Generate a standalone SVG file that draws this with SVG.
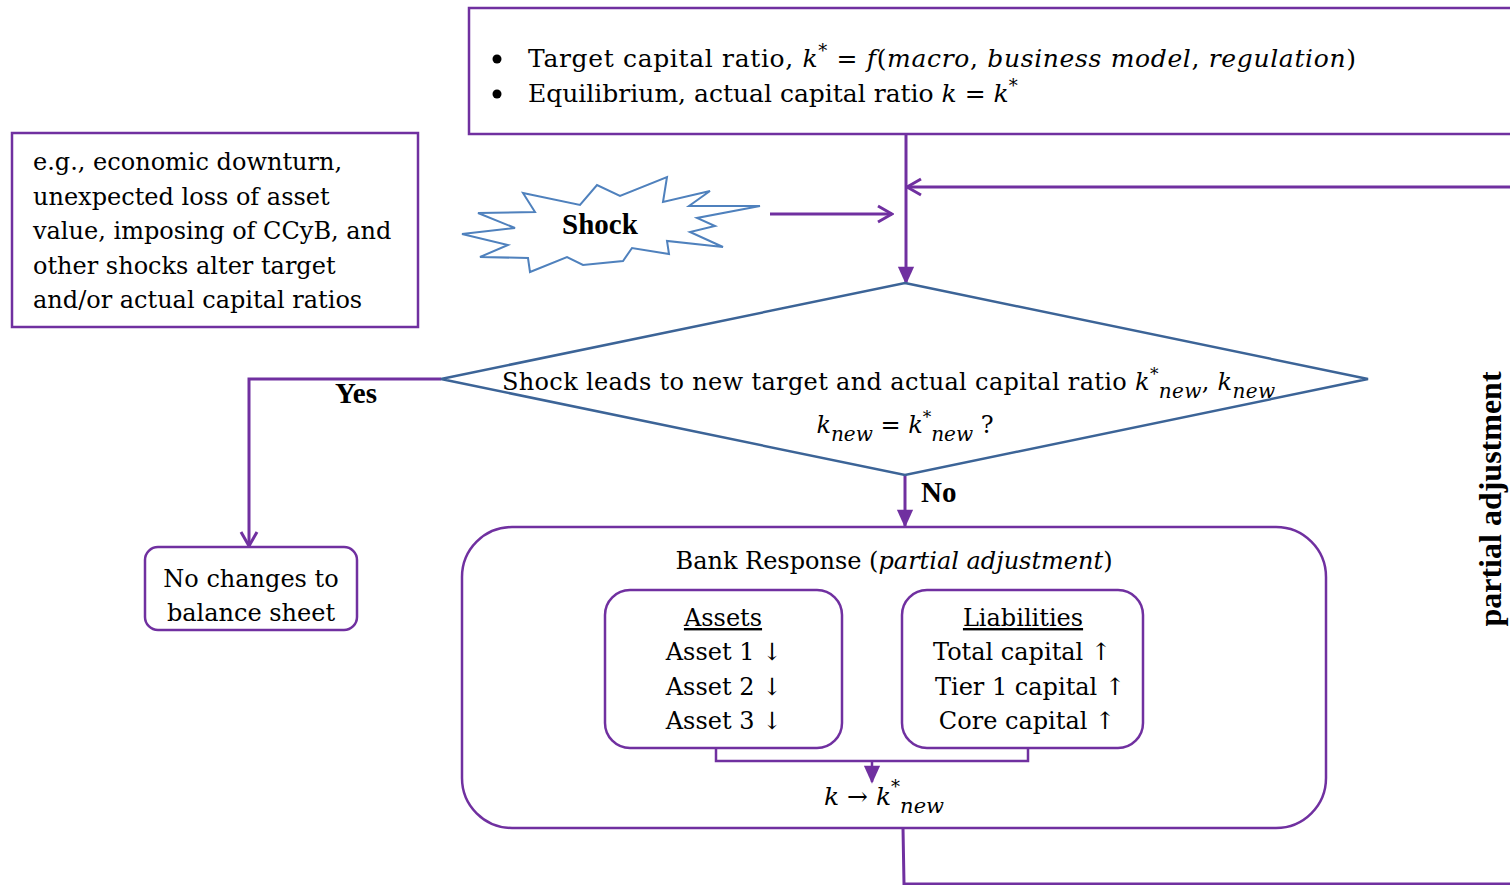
<svg xmlns="http://www.w3.org/2000/svg" width="1510" height="885" viewBox="0 0 1510 885">
<defs>
<style>
.t{font-family:"DejaVu Serif","Liberation Serif",serif;fill:#000}
.b{font-family:"Liberation Serif","Times New Roman",serif;font-weight:bold;fill:#000}
.i{font-style:italic}
.p{fill:none;stroke:#7030A0;stroke-width:2.5}
.box{fill:#fff;stroke:#7030A0;stroke-width:2.5}
.ln{fill:none;stroke:#7030A0;stroke-width:3}
</style>
<marker id="open" viewBox="0 0 20 20" refX="18" refY="10" markerWidth="20" markerHeight="20" markerUnits="userSpaceOnUse" orient="auto">
<path d="M4,2 L18,10 L4,18" fill="none" stroke="#7030A0" stroke-width="3"/>
</marker>
<marker id="fill" viewBox="0 0 20 20" refX="18" refY="10" markerWidth="20" markerHeight="18" markerUnits="userSpaceOnUse" orient="auto">
<path d="M0,1 L20,10 L0,19 Z" fill="#7030A0"/>
</marker>
</defs>
<rect width="1510" height="885" fill="#fff"/>

<g id="connectors">
<line class="ln" x1="906" y1="134" x2="906" y2="283" marker-end="url(#fill)"/>
<line class="ln" x1="1512" y1="187" x2="907" y2="187" marker-end="url(#open)"/>
<line class="ln" x1="770" y1="214" x2="892" y2="214" marker-end="url(#open)"/>
<polyline class="ln" points="441,379 249,379 249,546" marker-end="url(#open)"/>
<line class="ln" x1="905" y1="475" x2="905" y2="526" marker-end="url(#fill)"/>
<polyline class="p" points="716,748 716,761 1028,761 1028,748"/>
<line class="p" x1="872" y1="761" x2="872" y2="782" marker-end="url(#fill)"/>
<polyline class="ln" points="903,828 904,884 1512,884"/>
<text class="b" x="356" y="403" text-anchor="middle" font-size="29">Yes</text>
<text class="b" x="921" y="502" font-size="29">No</text>
<text class="b" transform="translate(1501,499) rotate(-90)" text-anchor="middle" font-size="32">partial adjustment</text>
</g>

<g id="top-box">
<rect class="box" x="469" y="8" width="1050" height="126"/>
<circle cx="497" cy="59" r="4.5" fill="#000"/>
<circle cx="497" cy="94" r="4.5" fill="#000"/>
<text class="t" x="528" y="67" font-size="25" textLength="828">Target capital ratio, <tspan class="i">k</tspan><tspan font-size="18" dy="-10">*</tspan><tspan dy="10"> = </tspan><tspan class="i">f</tspan>(<tspan class="i">macro</tspan>, <tspan class="i">business model</tspan>, <tspan class="i">regulation</tspan>)</text>
<text class="t" x="528" y="102" font-size="25">Equilibrium, actual capital ratio <tspan class="i">k</tspan> = <tspan class="i">k</tspan><tspan font-size="18" dy="-10">*</tspan></text>
</g>

<g id="shock-examples">
<rect class="box" x="12" y="133" width="406" height="194"/>
<text class="t" x="33" y="170" font-size="24">e.g., economic downturn,</text>
<text class="t" x="33" y="205" font-size="24">unexpected loss of asset</text>
<text class="t" x="33" y="239" font-size="24">value, imposing of CCyB, and</text>
<text class="t" x="33" y="274" font-size="24">other shocks alter target</text>
<text class="t" x="33" y="308" font-size="24">and/or actual capital ratios</text>
</g>

<g id="shock">
<polygon points="462,234 515,228 478,213 535,212 523,193 580,205 597,185 620,196 667,177 663,202 710,191 689,206 760,206 697,218 715,226 690,232 723,247 667,241 669,254 632,248 623,261 583,265 567,257 530,272 528,258 480,257 508,245" fill="#fff" stroke="#4F81BD" stroke-width="2"/>
<text class="b" x="600" y="234" text-anchor="middle" font-size="29">Shock</text>
</g>

<g id="decision">
<polygon points="905,283 1368,379 905,475 441,379" fill="#fff" stroke="#3C6497" stroke-width="2.5"/>
<text class="t" x="502" y="390" font-size="24" textLength="773">Shock leads to new target and actual capital ratio <tspan class="i">k</tspan><tspan font-size="17" dy="-10">*</tspan><tspan class="i" font-size="20" dy="18">new</tspan><tspan dy="-8">, </tspan><tspan class="i">k</tspan><tspan class="i" font-size="20" dy="8">new</tspan></text>
<text class="t" x="905" y="433" text-anchor="middle" font-size="24"><tspan class="i">k</tspan><tspan class="i" font-size="20" dy="8">new</tspan><tspan dy="-8"> =  </tspan><tspan class="i">k</tspan><tspan font-size="17" dy="-10">*</tspan><tspan class="i" font-size="20" dy="18">new</tspan><tspan dy="-8"> ?</tspan></text>
</g>

<g id="no-changes">
<rect class="box" x="145" y="547" width="212" height="83" rx="13"/>
<text class="t" x="251" y="587" text-anchor="middle" font-size="24">No changes to</text>
<text class="t" x="251" y="621" text-anchor="middle" font-size="24">balance sheet</text>
</g>

<g id="bank-response">
<rect class="p" x="462" y="527" width="864" height="301" rx="50"/>
<text class="t" x="894" y="569" text-anchor="middle" font-size="24">Bank Response (<tspan class="i">partial adjustment</tspan>)</text>
<text class="t" x="884" y="805" text-anchor="middle" font-size="25"><tspan class="i">k</tspan> → <tspan class="i">k</tspan><tspan font-size="18" dy="-12">*</tspan><tspan class="i" font-size="21" dy="20">new</tspan></text>
</g>

<g id="assets">
<rect class="box" x="605" y="590" width="237" height="158" rx="25"/>
<text class="t" x="723" y="626" text-anchor="middle" font-size="24" text-decoration="underline">Assets</text>
<text class="t" x="724" y="660" text-anchor="middle" font-size="24">Asset 1 ↓</text>
<text class="t" x="724" y="695" text-anchor="middle" font-size="24">Asset 2 ↓</text>
<text class="t" x="724" y="729" text-anchor="middle" font-size="24">Asset 3 ↓</text>
</g>

<g id="liabilities">
<rect class="box" x="902" y="590" width="241" height="158" rx="25"/>
<text class="t" x="1023" y="626" text-anchor="middle" font-size="24" text-decoration="underline">Liabilities</text>
<text class="t" x="1022" y="660" text-anchor="middle" font-size="24">Total capital ↑</text>
<text class="t" x="1030" y="695" text-anchor="middle" font-size="24">Tier 1 capital ↑</text>
<text class="t" x="1027" y="729" text-anchor="middle" font-size="24">Core capital ↑</text>
</g>
</svg>
